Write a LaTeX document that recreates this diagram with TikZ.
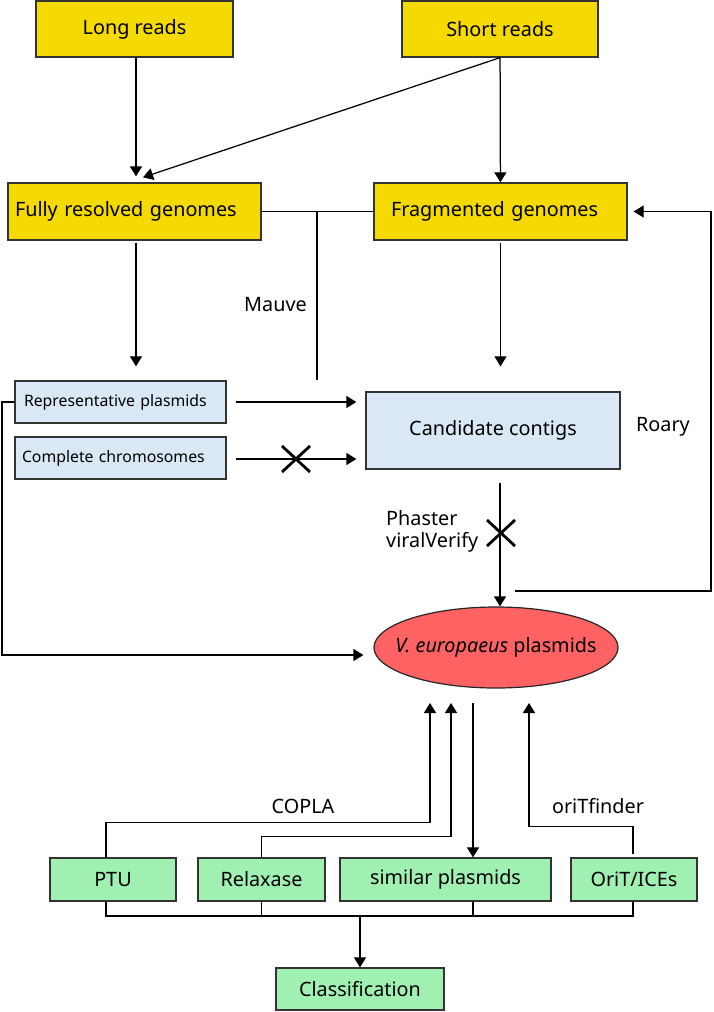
\documentclass[tikz,border=0pt]{standalone}
\usepackage{fontspec}
\setmainfont{Noto Sans}
\usetikzlibrary{arrows.meta,shapes.geometric}
\definecolor{ybox}{HTML}{F4DA00}
\definecolor{bbox}{HTML}{DAE8F5}
\definecolor{gbox}{HTML}{A0F0B2}
\definecolor{rell}{HTML}{FF6262}
\begin{document}
\begin{tikzpicture}[x=1pt,y=-1pt,
  box/.style={draw=black!80, line width=1.3pt, inner sep=0pt, font=\fontsize{19.8}{23}\selectfont},
  ybx/.style={box, fill=ybox},
  bbx/.style={box, fill=bbox},
  gbx/.style={box, fill=gbox},
  smallbx/.style={bbx, font=\fontsize{15.8}{19}\selectfont, align=left, inner xsep=#1, text width=211pt-2*#1},
  lbl/.style={inner sep=0pt, font=\fontsize{19.8}{23}\selectfont},
  arr/.style={-{Triangle[length=10pt,width=12pt]}, line width=1.25pt},
  ln/.style={line width=1.25pt},
  crossmark/.style={line width=2.8pt}]
\useasboundingbox (0,0) rectangle (713,1012);

% top row
\node[ybx, minimum width=197pt, minimum height=56pt] (long) at (134.5,29) {Long reads};
\node[ybx, minimum width=196pt, minimum height=56pt] (short) at (500,29) {Short reads};
% genomes
\node[ybx, minimum height=57pt, align=left, inner xsep=7pt, text width=239pt] (full) at (134.5,211.5) {Fully resolved genomes};
\node[ybx, minimum height=57pt, align=left, inner xsep=17pt, text width=219pt] (frag) at (500.5,211.5) {Fragmented genomes};
% middle
\node[smallbx=9pt, minimum height=42pt] (rep) at (120.5,402) {Representative plasmids};
\node[smallbx=7pt, minimum height=42pt] (comp) at (120.5,458) {Complete chromosomes};
\node[bbx, minimum width=254pt, minimum height=77pt] (cand) at (493,430.5) {Candidate contigs};
\node[ellipse, draw=black!85, line width=1.2pt, fill=rell, minimum width=244pt, minimum height=81pt, inner sep=0pt,
  label={[font=\fontsize{19.8}{23}\selectfont]center:{\itshape V. europaeus}\ plasmids}] (ell) at (496,647.5) {};
% bottom
\node[gbx, minimum width=126pt, minimum height=43pt] (ptu) at (113,879.5) {PTU};
\node[gbx, minimum width=127pt, minimum height=43pt] (relax) at (261.5,879.5) {Relaxase};
\node[gbx, minimum width=211pt, minimum height=43pt] (sim) at (445.5,879.5) {similar plasmids};
\node[gbx, minimum width=126pt, minimum height=43pt] (orit) at (634,879.5) {OriT/ICEs};
\node[gbx, minimum width=168pt, minimum height=42pt] (class) at (360,989) {Classification};

% labels
\node[lbl] (mauve) at (275.5,305) {Mauve};
\node[lbl] (roary) at (663,427) {Roary};
\node[lbl, align=left, anchor=west, font=\fontsize{19.8}{21.5}\selectfont] (phaster) at (386,531.5) {Phaster\\viralVerify};
\node[lbl] (copla) at (303,806) {COPLA};
\node[lbl] (oritf) at (598,806) {oriTfinder};

% coordinates
\coordinate (mvA) at (317,212);
\coordinate (mvB) at (317,380);
\coordinate (fb) at (515,591);
\coordinate (e1) at (430,703);
\coordinate (e2) at (451,703);
\coordinate (e3) at (473,703);
\coordinate (e4) at (529,703);
\coordinate (bus) at (360,916);

% top connectors
\draw[arr, shorten >=6pt] ([xshift=1.5pt]long.south) -- ([xshift=1.5pt]long.south |- full.north);
\draw[arr] (short) -- (frag);
\draw[arr] (short.south) -- ([xshift=8.5pt,yshift=5pt]full.north);
\draw[ln] (full.east) -- (frag.west);
\draw[ln] (mvA) -- (mvB);
\draw[arr, shorten <=2pt, shorten >=14pt] ([xshift=1.5pt]full.south) -- ([xshift=1.5pt]full.south |- rep.north);
\draw[arr, shorten <=2pt, shorten >=25pt] (frag.south) -- (frag.south |- cand.north);
% middle connectors
\draw[arr, shorten <=9pt, shorten >=9pt] (rep.east) -- (rep.east -| cand.west);
\draw[arr, shorten <=9pt, shorten >=9pt] ([yshift=-1pt]comp.east) -- ([yshift=-1pt]comp.east -| cand.west);
\draw[crossmark] (282,446) -- (310,472) (282,472) -- (310,446);
\draw[arr, shorten <=13pt] ([xshift=7pt]cand.south) -- ([xshift=4pt]ell.north);
\draw[crossmark] (487,520) -- (515,546) (487,546) -- (515,520);
\draw[arr, shorten >=6pt] (fb) -- (711,591) |- (frag.east);
\draw[arr, shorten >=10pt] (rep.west) -- (2,402) |- ([yshift=-7.5pt]ell.west);
% bottom connectors
\draw[arr] ([xshift=-7pt]ptu.north) -- ++(0,-35) -| (e1);
\draw[arr] (relax.north) -- ++(0,-21) -| (e2);
\draw[arr] (e3) -- (e3 |- sim.north);
\draw[arr] ([xshift=-1pt,yshift=3pt]orit.north) -- ++(0,-28) -| (e4);
\draw[ln] ([xshift=-7pt]ptu.south) |- ([xshift=-1pt]orit.south |- bus) -- ([xshift=-1pt]orit.south);
\draw[ln] (relax.south) -- (relax.south |- bus);
\draw[ln] ([xshift=27.5pt]sim.south) -- ([xshift=27.5pt]sim.south |- bus);
\draw[arr] (bus) -- (class);
\end{tikzpicture}
\end{document}
